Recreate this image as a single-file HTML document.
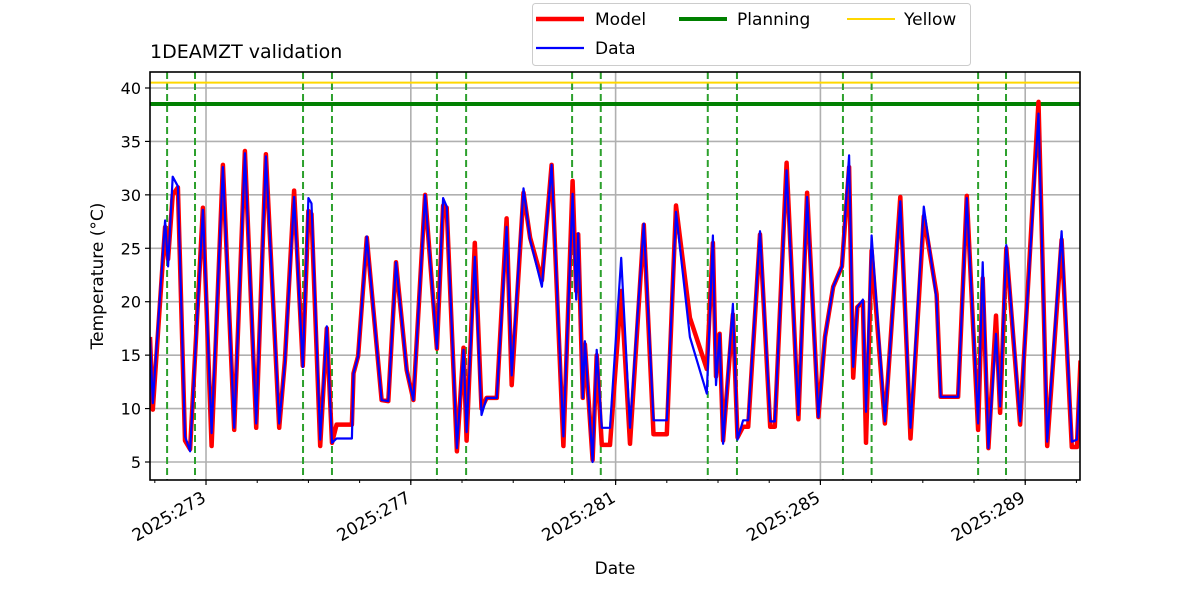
<!DOCTYPE html>
<html><head><meta charset="utf-8"><style>
body{margin:0;background:#fff;}
svg{display:block;font-family:"DejaVu Sans","Liberation Sans",sans-serif;}
</style></head><body>
<svg id="chart" width="1200" height="600" viewBox="0 0 1200 600"></svg>
<script>
const times=[271.906,271.96,272.20,272.26,272.35,272.45,272.59,272.69,272.94,273.11,273.33,273.55,273.76,273.98,274.17,274.43,274.54,274.72,274.89,275.00,275.06,275.23,275.36,275.46,275.55,275.85,275.88,275.97,276.14,276.43,276.56,276.71,276.92,277.05,277.28,277.51,277.63,277.70,277.90,278.03,278.09,278.25,278.38,278.48,278.68,278.87,278.97,279.20,279.33,279.56,279.75,279.98,280.16,280.23,280.27,280.36,280.40,280.55,280.63,280.73,280.89,281.11,281.28,281.55,281.74,282.00,282.18,282.45,282.78,282.90,282.96,283.03,283.10,283.29,283.38,283.49,283.59,283.82,284.02,284.11,284.34,284.57,284.74,284.96,285.09,285.25,285.42,285.56,285.64,285.72,285.83,285.89,286.00,286.26,286.56,286.76,287.02,287.27,287.35,287.69,287.86,288.08,288.17,288.28,288.43,288.51,288.63,288.90,289.26,289.43,289.71,289.91,290.01,290.08];
const dataVals=[16.7,10.5,27.6,23.3,31.7,30.8,7.4,6.0,28.6,7.7,32.6,8.2,33.9,8.6,33.6,8.6,14.3,29.8,13.9,29.7,29.2,7.1,17.7,6.8,7.2,7.2,13.3,14.9,26.1,10.8,10.7,23.7,13.6,10.8,30.0,15.6,29.7,28.9,6.3,15.5,7.8,24.2,9.4,11.0,11.0,27.0,13.1,30.6,25.8,21.4,32.8,7.4,30.1,20.2,26.4,11.0,16.3,5.0,15.5,8.2,8.2,24.1,8.2,27.3,8.9,8.9,28.4,16.7,11.4,26.2,12.2,17.0,6.7,19.8,7.1,8.9,8.9,26.6,8.8,8.8,32.3,9.4,29.8,9.2,16.7,21.4,23.3,33.7,13.9,19.5,20.2,9.7,26.2,8.8,29.4,8.2,28.9,20.2,11.1,11.1,29.7,8.6,23.7,6.3,17.0,10.2,25.3,8.8,37.6,6.9,26.6,6.9,7.1,13.6];
const modelVals=[16.7,9.9,27,24,30,30.7,7,6.2,28.8,6.5,32.8,8.0,34.1,8.2,33.8,8.2,14.5,30.4,14,28.5,28.2,6.5,17.5,6.8,8.5,8.5,13.3,14.9,26,10.8,10.7,23.7,13.6,10.8,30,15.6,29,28.8,6,15.7,7,25.5,10,11,11,27.8,12.2,30.2,26,22,32.8,6.5,31.3,21,26.3,11,16,5.2,15,6.6,6.6,21,6.7,27.2,7.6,7.6,29,18.5,13.7,25.5,13,17,7,18.8,7.3,8.3,8.3,26.3,8.3,8.3,33,9,30.2,9.2,16.7,21.4,23.3,32.6,12.9,19.5,20,6.8,24.8,8.6,29.8,7.2,28,20.7,11.1,11.1,29.9,8.0,22.2,6.3,18.7,9.6,25,8.5,38.7,6.5,25.8,6.4,6.4,14.5];
const planningDays=[272.24,272.785,274.895,275.46,277.51,278.08,280.15,280.71,282.80,283.37,285.44,286.00,288.08,288.625];
const yTicks=[5,10,15,20,25,30,35,40];
const xTicks=[273,277,281,285,289];
const xTickLabels=["2025:273","2025:277","2025:281","2025:285","2025:289"];
const planningLimit=38.5, yellowLimit=40.5;

const L=150,R=1080,T=72,B=480;
const X0=271.906,X1=290.07;
const xs=d=>L+(d-X0)/(X1-X0)*(R-L);
const ys=v=>462-(v-5)*10.686;
const NS="http://www.w3.org/2000/svg";
const svg=document.getElementById('chart');
function mk(tag,attrs,parent){const e=document.createElementNS(NS,tag);for(const k in attrs)e.setAttribute(k,attrs[k]);(parent||svg).appendChild(e);return e;}

const clip=mk('clipPath',{id:'pc'});mk('rect',{x:L,y:T,width:R-L,height:B-T},clip);
yTicks.forEach(v=>{const g=mk('line',{x1:L,x2:R,y1:ys(v),y2:ys(v),stroke:'#b0b0b0','stroke-width':1.6});

});
xTicks.forEach(d=>{const g=mk('line',{x1:xs(d),x2:xs(d),y1:T,y2:B,stroke:'#b0b0b0','stroke-width':1.6});

});
planningDays.forEach(d=>{const l=mk('line',{x1:xs(d),x2:xs(d),y1:T,y2:B,stroke:'#2ca02c','stroke-width':2,'stroke-dasharray':'7,4'});

});
const yl=mk('line',{x1:L,x2:R,y1:ys(yellowLimit),y2:ys(yellowLimit),stroke:'#ffd700','stroke-width':2});


const gl=mk('line',{x1:L,x2:R,y1:ys(planningLimit),y2:ys(planningLimit),stroke:'#008000','stroke-width':4});


function pts(vals){return times.map((t,i)=>xs(t).toFixed(1)+','+ys(vals[i]).toFixed(1)).join(' ');}
const mp=mk('polyline',{points:pts(modelVals),fill:'none',stroke:'#ff0000','stroke-width':4.5,'stroke-linejoin':'round','clip-path':'url(#pc)'});


const dp=mk('polyline',{points:pts(dataVals),fill:'none',stroke:'#0000ff','stroke-width':2.2,'stroke-linejoin':'round','clip-path':'url(#pc)'});


const fr=mk('rect',{x:L,y:T,width:R-L,height:B-T,fill:'none',stroke:'#000','stroke-width':1.6});


yTicks.forEach(v=>{mk('line',{x1:L-5,x2:L,y1:ys(v),y2:ys(v),stroke:'#000','stroke-width':1.2});
const t=mk('text',{x:L-9,y:ys(v)+6,'text-anchor':'end','font-size':16});t.textContent=v;

});
for(let d=272;d<=290;d++){mk('line',{x1:xs(d),x2:xs(d),y1:B,y2:B+3,stroke:'#000','stroke-width':1});}
xTicks.forEach((d,i)=>{mk('line',{x1:xs(d),x2:xs(d),y1:B,y2:B+5,stroke:'#000','stroke-width':1.2});
const ax=xs(d)+1, ay=B+21;
const t=mk('text',{x:ax,y:ay,'text-anchor':'end','font-size':17,transform:`rotate(-30 ${ax} ${ay})`});t.textContent=xTickLabels[i];

});
</script>
<svg width="1200" height="600" style="position:absolute;left:0;top:0">
<text x="150" y="58" font-size="19" font-family="DejaVu Sans, sans-serif">1DEAMZT validation</text>
<text x="615" y="574" font-size="17" text-anchor="middle" font-family="DejaVu Sans, sans-serif">Date</text>
<text x="0" y="0" font-size="17" text-anchor="middle" font-family="DejaVu Sans, sans-serif" transform="translate(103 276) rotate(-90)">Temperature (°C)</text>
<g font-family="DejaVu Sans, sans-serif" font-size="17">
<rect x="532.5" y="3.5" width="438" height="62" rx="3" fill="#fff" fill-opacity="0.8" stroke="#ccc"/>
<g><line x1="536" x2="584" y1="19" y2="19" stroke="#ff0000" stroke-width="4.5"/><text x="595" y="25">Model</text></g>
<g><line x1="536" x2="584" y1="48" y2="48" stroke="#0000ff" stroke-width="2.2"/><text x="595" y="54">Data</text></g>
<g><line x1="679" x2="727" y1="19" y2="19" stroke="#008000" stroke-width="4"/><text x="737" y="25">Planning</text></g>
<g><line x1="847" x2="895" y1="19" y2="19" stroke="#ffd700" stroke-width="2"/><text x="904" y="25">Yellow</text></g>
</g>
</svg>
</body></html>
